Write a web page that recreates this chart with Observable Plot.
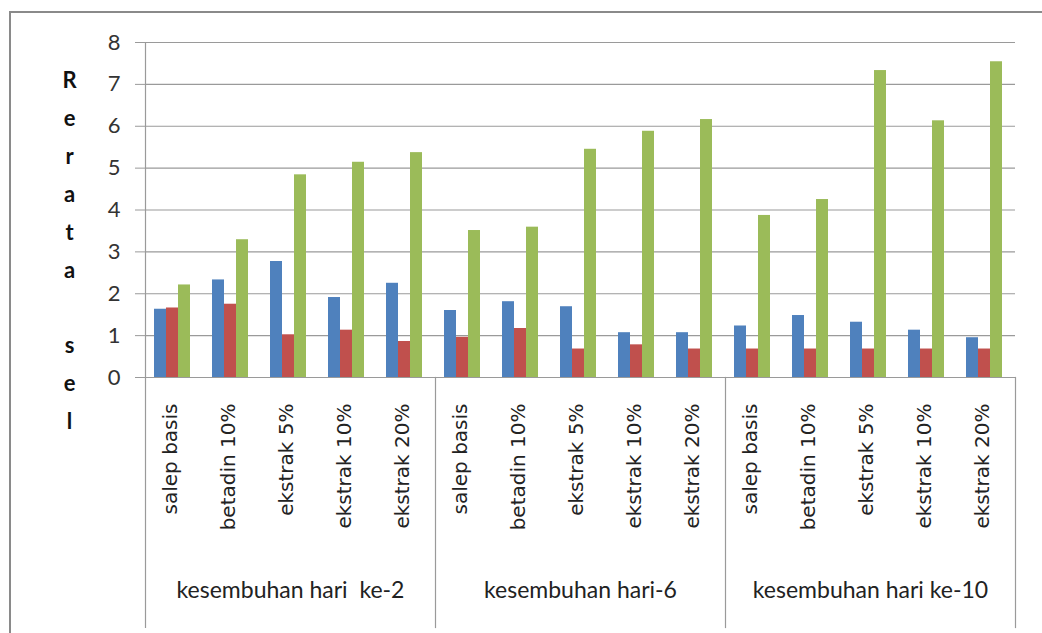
<!DOCTYPE html>
<html>
<head>
<meta charset="utf-8">
<script src="https://cdn.jsdelivr.net/npm/d3@7"></script>
<script src="https://cdn.jsdelivr.net/npm/@observablehq/plot@0.6"></script>
<style>
  html, body { margin: 0; padding: 0; background: #fff; }
  #wrap { position: relative; width: 1042px; height: 633px; overflow: hidden; }
  #border { position: absolute; left: 9px; top: 11px; width: 1100px; height: 700px;
            border-left: 2px solid #8a8a8a; border-top: 2px solid #8a8a8a; pointer-events: none; }
  svg text { white-space: pre; }
</style>
</head>
<body>
<div id="wrap"><div id="border"></div></div>
<script>
const groups = ["kesembuhan hari  ke-2", "kesembuhan hari-6", "kesembuhan hari ke-10"];
const categories = ["salep basis", "betadin 10%", "ekstrak 5%", "ekstrak 10%", "ekstrak 20%"];
const seriesNames = ["seri 1", "seri 2", "seri 3"];
const seriesColors = ["#4F81BD", "#C0504D", "#9BBB59"];
const blueValues  = [1.63, 2.33, 2.77, 1.91, 2.25,  1.60, 1.81, 1.69, 1.07, 1.07,  1.23, 1.48, 1.32, 1.13, 0.95];
const redValues   = [1.66, 1.75, 1.02, 1.13, 0.86,  0.96, 1.17, 0.68, 0.78, 0.68,  0.68, 0.68, 0.68, 0.68, 0.68];
const greenValues = [2.21, 3.29, 4.84, 5.14, 5.37,  3.51, 3.59, 5.45, 5.88, 6.16,  3.87, 4.25, 7.33, 6.13, 7.54];
const yTicks = [0, 1, 2, 3, 4, 5, 6, 7, 8];
const yTitle = "R\ne\nr\na\nt\na\n\u00a0\ns\ne\nl";

const keys = groups.flatMap(g => categories.map(c => `${g}|${c}`));
const seriesValues = [blueValues, redValues, greenValues];
const data = [];
keys.forEach((k, i) => {
  seriesNames.forEach((s, j) => data.push({key: k, series: s, value: seriesValues[j][i]}));
});

const gray = "#9a9a9a";
const frameH = 633 - 42 - 256;

const chart = Plot.plot({
  width: 1042,
  height: 633,
  marginLeft: 138,
  marginRight: 20,
  marginTop: 42,
  marginBottom: 256,
  style: {fontFamily: "Lato", background: "transparent", overflow: "visible"},
  fx: {domain: keys, padding: 0},
  x: {domain: seriesNames, paddingInner: 0, paddingOuter: 0.8, align: 0.42, axis: null},
  y: {domain: [0, 8]},
  color: {domain: seriesNames, range: seriesColors},
  marks: [
    Plot.ruleY(yTicks, {stroke: gray, strokeWidth: 1.2}),
    Plot.barY(data, {fx: "key", x: "series", y: "value", fill: "series"}),
    Plot.axisY({ticks: yTicks, tickSize: 10, tickPadding: 15, stroke: gray, color: "#333",
                fontSize: 22, label: null, tickFormat: d => String(d)}),
    Plot.axisFx({anchor: "bottom", tickRotate: -90, tickSize: 0, tickPadding: 26,
                 tickFormat: k => k.split("|")[1], fontSize: 20, fontFamily: "DejaVu Sans",
                 color: "#222", label: null, dx: -4}),
    Plot.frame({anchor: "left", fx: () => keys[0], insetBottom: -250, stroke: gray, strokeWidth: 1.2}),
    Plot.frame({anchor: "right", fx: () => keys[keys.length - 1], insetTop: frameH, insetBottom: -250, stroke: gray, strokeWidth: 1.2}),
    ...groups.slice(1).map(g => Plot.frame({anchor: "left", fx: () => `${g}|${categories[0]}`,
                 insetTop: frameH, insetBottom: -250, stroke: gray, strokeWidth: 1.2})),
    Plot.text(groups, {fx: g => `${g}|${categories[2]}`, text: d => d, frameAnchor: "bottom",
                 dy: 220, fontSize: 23, fill: "#222"}),
    Plot.text([yTitle], {fx: () => keys[0], text: d => d, frameAnchor: "left", textAnchor: "middle",
                 dx: -76, dy: 36.5, lineHeight: 1.72, fontSize: 22, fontWeight: "bold", fill: "#111"})
  ]
});
document.getElementById("wrap").prepend(chart);
</script>
</body>
</html>
